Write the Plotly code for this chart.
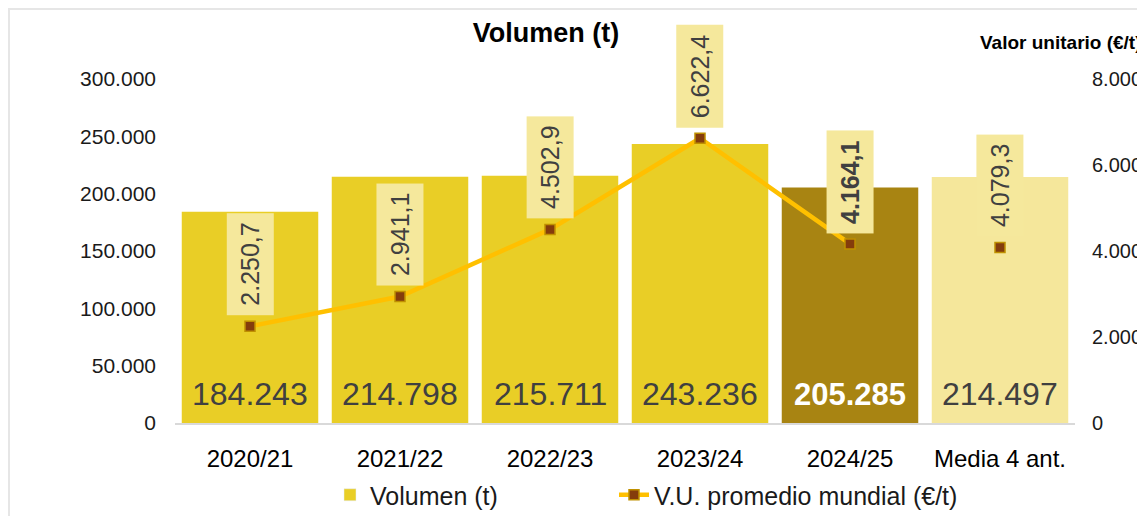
import plotly.graph_objects as go

categories = ["2020/21", "2021/22", "2022/23", "2023/24", "2024/25", "Media 4 ant."]
volumen = [184243, 214798, 215711, 243236, 205285, 214497]
vu = [2250.7, 2941.1, 4502.9, 6622.4, 4164.1, 4079.3]
left_ticks = [0, 50000, 100000, 150000, 200000, 250000, 300000]
right_ticks = [0, 2000, 4000, 6000, 8000]

bar_colors = ["#E9CE26", "#E9CE26", "#E9CE26", "#E9CE26", "#A88412", "#F5E79B"]
FONT = "Liberation Sans"

# page body has an 8px margin; figure is sized to fit the 1145x516 window
W, H = 1137, 508
OFF = 8
PL, PR, PT, PB = 175 - OFF, 1075 - OFF, 79 - OFF, 423 - OFF  # plot box in figure px
PW, PH = PR - PL, PB - PT


def px_x(x):  # screen x -> paper x
    return (x - OFF - PL) / PW


def px_y(y):  # screen y -> paper y
    return (PB - (y - OFF)) / PH


def fmt_int(v):
    return f"{v:,.0f}".replace(",", ".")


def fmt_dec(v):
    return f"{v:,.1f}".replace(",", "X").replace(".", ",").replace("X", ".")


fig = go.Figure()
fig.add_trace(go.Bar(
    x=categories, y=volumen, name="Volumen (t)",
    marker=dict(color=bar_colors, line=dict(width=0)),
    yaxis="y", showlegend=False,
))
# legend proxy for bars (uniform colour)
fig.add_trace(go.Bar(
    x=[None], y=[None], name="Volumen (t)",
    marker=dict(color="#E9CE26"), yaxis="y", showlegend=True, legend="legend",
))
fig.add_trace(go.Scatter(
    x=categories[:5], y=vu[:5], name="V.U. promedio mundial (€/t)",
    mode="lines+markers", yaxis="y2", legend="legend2",
    line=dict(color="#FFC000", width=4.5),
    marker=dict(symbol="square", size=10, color="#843C0C",
                line=dict(color="#BF9000", width=1.5)),
))
fig.add_trace(go.Scatter(
    x=categories[5:], y=vu[5:], mode="markers", yaxis="y2", showlegend=False,
    marker=dict(symbol="square", size=10, color="#843C0C",
                line=dict(color="#BF9000", width=1.5)),
))

annotations = []
for i, (c, v) in enumerate(zip(categories, volumen)):
    highlight = i == 4
    annotations.append(dict(
        x=c, y=0, xref="x", yref="y", yanchor="middle", yshift=29,
        text=("<b>%s</b>" % fmt_int(v)) if highlight else fmt_int(v),
        showarrow=False,
        font=dict(family=FONT, size=32 if not highlight else 31,
                  color="#FFFFFF" if highlight else "#404040"),
    ))
for i, (c, v) in enumerate(zip(categories, vu)):
    highlight = i == 4
    annotations.append(dict(
        x=c, y=v, xref="x", yref="y2", yanchor="bottom", yshift=10,
        text=("<b>%s</b>" % fmt_dec(v)) if highlight else fmt_dec(v),
        textangle=-90, showarrow=False,
        bgcolor="#F5E89C", borderpad=9,
        font=dict(family=FONT, size=25, color="#404040"),
    ))
annotations.append(dict(
    x=px_x(1144), y=px_y(42), xref="paper", yref="paper",
    xanchor="right", yanchor="middle", showarrow=False,
    text="<b>Valor unitario (€/t)</b>",
    font=dict(family=FONT, size=19, color="#000000"),
))

legend_common = dict(
    orientation="h", xanchor="left", yanchor="top",
    font=dict(family=FONT, size=25, color="#1A1A1A"),
    bgcolor="rgba(0,0,0,0)",
)

fig.update_layout(
    width=W, height=H,
    margin=dict(l=PL, r=W - PR, t=PT, b=H - PB, autoexpand=False),
    paper_bgcolor="#FFFFFF", plot_bgcolor="rgba(0,0,0,0)",
    separators=",.",
    barmode="overlay", bargap=0.09,
    title=dict(text="<b>Volumen (t)</b>", x=(546 - OFF) / W, y=1 - (33 - OFF) / H,
               xanchor="center", yanchor="middle",
               font=dict(family=FONT, size=27, color="#000000")),
    xaxis=dict(
        type="category", showgrid=False, showline=True, linecolor="#D9D9D9",
        linewidth=2, ticks="", ticklabelstandoff=13,
        tickfont=dict(family=FONT, size=24, color="#000000"),
    ),
    yaxis=dict(
        range=[0, 300000], tickvals=left_ticks, tickformat=",d",
        showgrid=False, zeroline=False, showline=False, ticks="",
        ticklabelstandoff=18,
        tickfont=dict(family=FONT, size=21, color="#1A1A1A"),
    ),
    yaxis2=dict(
        range=[0, 8000], tickvals=right_ticks, tickformat=",d",
        overlaying="y", side="right",
        showgrid=False, zeroline=False, showline=False, ticks="",
        ticklabelstandoff=16,
        tickfont=dict(family=FONT, size=20, color="#1A1A1A"),
    ),
    legend=dict(x=px_x(330), y=px_y(472), **legend_common),
    legend2=dict(x=px_x(614), y=px_y(472), **legend_common),
    annotations=annotations,
    shapes=[
        dict(type="line", xref="paper", yref="paper",
             x0=px_x(8), x1=px_x(1145),
             y0=px_y(9), y1=px_y(9),
             line=dict(color="#E6E6E6", width=2)),
        dict(type="line", xref="paper", yref="paper",
             x0=px_x(9), x1=px_x(9),
             y0=px_y(8), y1=px_y(516),
             line=dict(color="#E6E6E6", width=2)),
    ],
)

fig.write_html("out.html")
